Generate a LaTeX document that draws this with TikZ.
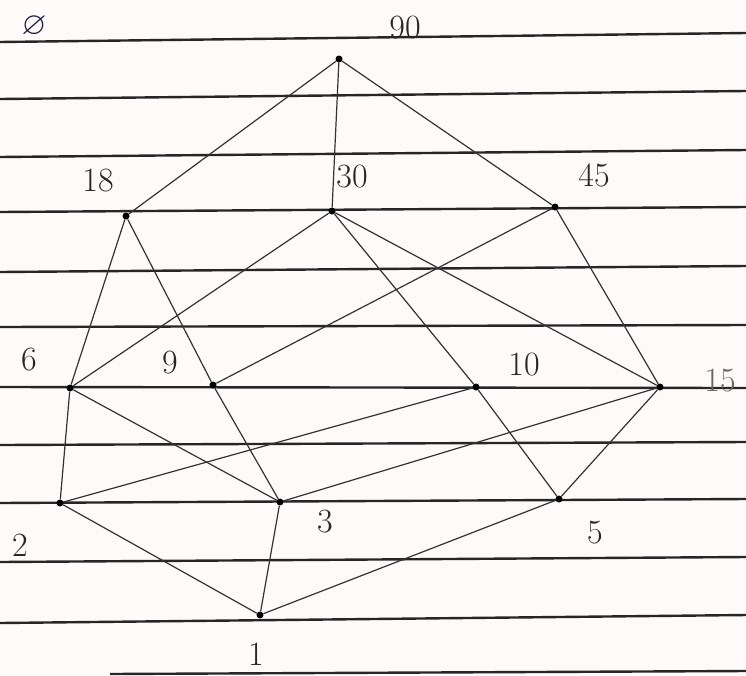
\documentclass[tikz,border=0pt]{standalone}
\usepackage{amssymb}
\definecolor{paperbg}{RGB}{253,250,249}
\definecolor{inkblue}{RGB}{25,25,60}
\begin{document}
\begin{tikzpicture}[x=1pt,y=-1pt,
  paper/.style={line width=2.4pt,color=black!85},
  edge/.style={line width=1.2pt,color=black!80},
  dot/.style={circle,fill=black,inner sep=0pt,minimum size=7pt},
  lbl/.style={font=\fontsize{34}{36}\selectfont,text=black!85,inner sep=0pt},
]
\fill[paperbg] (0,0) rectangle (746,675);
\useasboundingbox (0,0) rectangle (746,675);
% ruled paper lines
\foreach \yl/\yr in {42/33,99/91,157/150,212/207,272/266,327/325,387/388,445/442,503/499,562/557,623/615}
  \draw[paper] (0,\yl) -- (746,\yr);
\draw[paper] (110,674) -- (746,671);

% vertices
\node[dot] (n90) at (339,59) {};
\node[dot] (n18) at (126,216) {};
\node[dot] (n30) at (332,211) {};
\node[dot] (n45) at (555,207) {};
\node[dot] (n6) at (70,388) {};
\node[dot] (n9) at (213,385) {};
\node[dot] (n10) at (476,387) {};
\node[dot] (n15) at (660,387) {};
\node[dot] (n2) at (60,503) {};
\node[dot] (n3) at (280,502) {};
\node[dot] (n5) at (559,499) {};
\node[dot] (n1) at (260,615) {};

% edges
\foreach \a/\b in {n90/n18,n90/n30,n90/n45,n18/n6,n18/n9,n30/n6,n30/n10,n30/n15,
  n45/n9,n45/n15,n6/n2,n6/n3,n9/n3,n10/n2,n10/n5,n15/n3,n15/n5,n2/n1,n3/n1,n5/n1}
  \draw[edge] (\a) -- (\b);

% labels
\node[lbl] (l90) at (405,28) {90};
\node[lbl] (l18) at (98,181) {18};
\node[lbl] (l30) at (352,177) {30};
\node[lbl] (l45) at (594,175) {45};
\node[lbl] (l6) at (29,360) {6};
\node[lbl] (l9) at (170,363) {9};
\node[lbl] (l10) at (524,365) {10};
\node[lbl,text=black!60] (l15) at (720,381) {15};
\node[lbl] (l2) at (20,545) {2};
\node[lbl] (l3) at (325,522) {3};
\node[lbl] (l5) at (595,533) {5};
\node[lbl] (l1) at (256,654) {1};
\node[inner sep=0pt,text=inkblue] (lempty) at (34,26) {\scalebox{3.2}{$\varnothing$}};
\end{tikzpicture}
\end{document}
